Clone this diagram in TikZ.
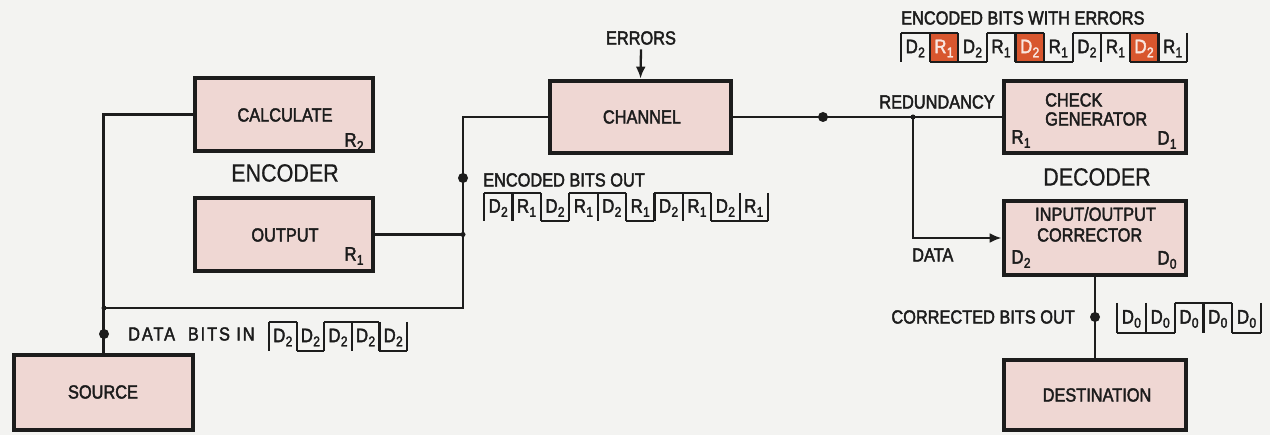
\documentclass[tikz,border=0pt]{standalone}
\usepackage{fontspec}
\setmainfont[FakeStretch=0.86,FakeBold=2.2]{Liberation Sans}
\newfontfamily\plainfont[FakeStretch=0.86,FakeBold=0.6]{Liberation Sans}
\usetikzlibrary{arrows.meta,calc}
\definecolor{bg}{HTML}{F3F3F1}
\definecolor{boxfill}{HTML}{EFD7D3}
\definecolor{errcol}{HTML}{D8562E}
\definecolor{ink}{HTML}{1C1C1C}
\newcommand\mainfs{\fontsize{19}{20}\selectfont}
\newcommand\bigfs{\plainfont\fontsize{25}{26}\selectfont}
\newcommand\bitfs{\fontsize{19.5}{20}\selectfont}
\newcommand\sbx[2]{#1\kern0.3pt\raisebox{-0.4ex}{\fontsize{14}{14}\selectfont#2}}
\tikzset{
  box/.style={draw=ink, line width=4.8pt, fill=boxfill, rectangle, inner sep=0pt},
  txt/.style={font=\mainfs, inner sep=0pt, text=ink},
  bigtxt/.style={font=\bigfs, inner sep=0pt, text=ink},
  corner/.style={font=\bitfs, inner sep=0pt, text=ink},
  bitlab/.style={font=\bitfs, inner sep=0pt, text=ink},
  conn/.style={draw=ink, line width=2.3pt},
  wave/.style={draw=ink, line width=2.2pt},
  arr/.style={-{Latex[length=12pt,width=10pt]}},
  bigdot/.style={circle, fill=ink, inner sep=0pt, minimum size=10pt},
  smalldot/.style={circle, fill=ink, inner sep=0pt, minimum size=5pt},
}
\newcommand\bitwave[6]{%
  \foreach \wl/\ws/\wb [count=\wi from 0] in {#6}{%
    \pgfmathsetmacro\xa{#1+\wi*#3}%
    \pgfmathsetmacro\xb{#1+(\wi+1)*#3}%
    \pgfmathsetmacro\xm{#1+(\wi+0.5)*#3}%
    \ifnum\wb=2
      \fill[errcol] (\xa,#2) rectangle (\xb,{#2+#4});
      \draw[wave] (\xa,#2) -- (\xb,#2) (\xa,{#2+#4}) -- (\xb,{#2+#4});
      \node[bitlab,text=white!85!errcol] at (\xm,{#2+#4/2+1}) {\sbx{\wl}{\ws}};
    \else
      \ifnum\wb=1
        \draw[wave] (\xa,#2) -- (\xb,#2);
      \else
        \draw[wave] (\xa,{#2+#4}) -- (\xb,{#2+#4});
      \fi
      \node[bitlab] at (\xm,{#2+#4/2+1}) {\sbx{\wl}{\ws}};
    \fi
    \draw[wave] (\xa,#2) -- (\xa,{#2+#4});
  }%
  \draw[wave] ({#1+#5*#3},#2) -- ({#1+#5*#3},{#2+#4});
}
\begin{document}
\begin{tikzpicture}[x=1pt,y=-1pt]
\fill[bg] (0,0) rectangle (1270,435);

% boxes
\node[box, minimum width=178pt, minimum height=73pt] (calc) at (284,114.5) {};
\node[box, minimum width=178pt, minimum height=73pt] (out) at (284,234.5) {};
\node[box, minimum width=179pt, minimum height=75pt] (src) at (103.5,392.5) {};
\node[box, minimum width=181pt, minimum height=72pt] (chan) at (640.5,117) {};
\node[box, minimum width=182pt, minimum height=72pt] (chk) at (1095,117) {};
\node[box, minimum width=182pt, minimum height=74pt] (cor) at (1095,238) {};
\node[box, minimum width=182pt, minimum height=70pt] (dst) at (1095,395) {};

% box texts
\node[txt] (tcalc) at (285,115) {CALCULATE};
\node[corner] (rcalc) at (354,142) {\sbx{R}{2}};
\node[txt] (tout) at (285,235) {OUTPUT};
\node[corner] (rout) at (354,256) {\sbx{R}{1}};
\node[txt] (tsrc) at (103,392) {SOURCE};
\node[txt] (tchan) at (642,117) {CHANNEL};
\node[txt, anchor=west] (tchk1) at (1045,100) {CHECK};
\node[txt, anchor=west] (tchk2) at (1045,119) {GENERATOR};
\node[corner] (rchk) at (1021,139) {\sbx{R}{1}};
\node[corner] (dchk) at (1167,140) {\sbx{D}{1}};
\node[txt, anchor=west] (tcor1) at (1035,214) {INPUT/OUTPUT};
\node[txt, anchor=west] (tcor2) at (1037,235) {CORRECTOR};
\node[corner] (dcor2) at (1021,259) {\sbx{D}{2}};
\node[corner] (dcor0) at (1167,260) {\sbx{D}{0}};
\node[txt] (tdst) at (1097,395) {DESTINATION};

\node[bigtxt] (enc) at (285,173) {ENCODER};
\node[bigtxt] (dec) at (1097,177) {DECODER};

% connectors
\draw[conn] (calc.west) -| (src.north);
\node[smalldot] (jA) at (104,308) {};
\coordinate (bend) at (463,308);
\draw[conn] (jA.center) -- (bend) |- (chan.west);
\draw[conn] (out.east) -- (out.east -| bend) node[smalldot] (jB) {};
\node[bigdot] (dIn) at (104,334) {};
\node[bigdot] (dEnc) at (463,178) {};
\draw[conn] (chan.east) -- (chk.west);
\node[bigdot] (dCh) at (823,117) {};
\node[smalldot] (tap) at (913,117) {};
\draw[conn,arr] (tap.center) |- (cor.west);
\draw[conn] (cor.south) -- (dst.north);
\node[bigdot] (dCor) at (1095,317) {};

\node[txt] (err) at (641,38) {ERRORS};
\draw[conn,arr] ($(err.south)+(0,4.5)$) -- (chan.north);

% labels
\node[txt, anchor=west] (lin) at (128,334) {\addfontfeatures{LetterSpace=10}DATA\ \ BITS IN};
\node[txt, anchor=west] (lenc) at (483,180) {ENCODED BITS OUT};
\node[txt, anchor=west] (lerr) at (901,18) {ENCODED BITS WITH ERRORS};
\node[txt] (lred) at (937,102) {REDUNDANCY};
\node[txt, anchor=west] (ldata) at (912,255) {DATA};
\node[txt, anchor=east] (lcor) at (1075,317) {CORRECTED BITS OUT};

% bit waveforms
\bitwave{269}{322}{27.6}{29}{5}{D/2/1,D/2/0,D/2/1,D/2/1,D/2/0}
\bitwave{484}{193}{28.4}{28}{10}{D/2/1,R/1/1,D/2/0,R/1/1,D/2/1,R/1/0,D/2/1,R/1/1,D/2/0,R/1/0}
\bitwave{901}{33}{28.6}{29}{10}{D/2/1,R/1/2,D/2/0,R/1/1,D/2/2,R/1/0,D/2/1,R/1/1,D/2/2,R/1/0}
\bitwave{1117}{303}{28.8}{30}{5}{D/0/0,D/0/0,D/0/1,D/0/1,D/0/0}

\pgfresetboundingbox
\useasboundingbox (0,0) rectangle (1270,435);
\end{tikzpicture}
\end{document}
